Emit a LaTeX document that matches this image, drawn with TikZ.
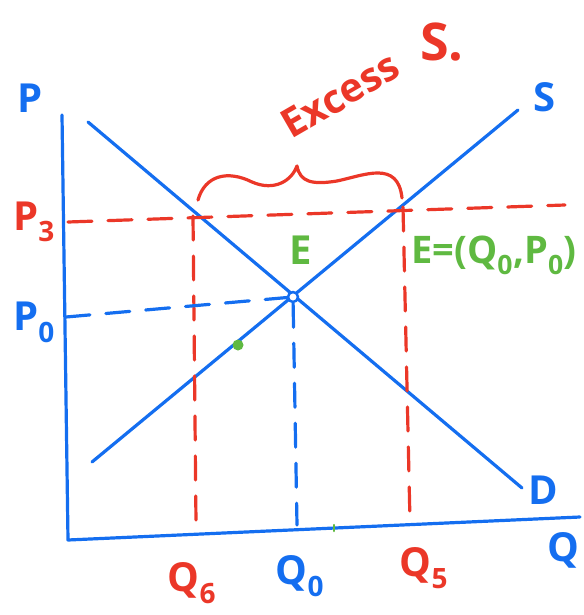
\documentclass[tikz,border=0pt]{standalone}
\usepackage{fontspec}
\setmainfont{Open Sans}
\usepackage{tikz}
\definecolor{penblue}{RGB}{20,110,240}
\definecolor{penred}{RGB}{235,55,40}
\definecolor{pengreen}{RGB}{95,185,65}

\begin{document}
\begin{tikzpicture}[x=1pt, y=-1pt, line cap=round, line join=round,
    every node/.style={font=\fontsize{40}{44}\selectfont\bfseries, inner sep=1pt},
    pen/.style={line width=3.2pt},
    guide/.style={line width=3.2pt, dash pattern=on 24pt off 16pt}]
    \useasboundingbox (0,0) rectangle (583,615);
    % axes and curves
    \coordinate (ptop) at (62,115);
    \coordinate (origin) at (68,540);
    \coordinate (qend) at (580,517);
    \coordinate (d1) at (88,122);
    \coordinate (d2) at (522,488);
    \coordinate (s1) at (92,462);
    \coordinate (s2) at (518,110);
    \draw[pen, penblue] (ptop) -- (origin) -- (qend);
    \draw[pen, penblue] (d1) -- (d2);
    \draw[pen, penblue] (s1) -- (s2);
    % guide lines
    \coordinate (p3a) at (68,222);
    \coordinate (p3b) at (565,205);
    \coordinate (p0a) at (66,317);
    \coordinate (q6a) at (193,216);
    \coordinate (q6b) at (196,523);
    \coordinate (q5a) at (403,207);
    \coordinate (q5b) at (410,522);
    \coordinate (q0b) at (297,525);
    \node[circle, draw=penblue, fill=white, line width=2.5pt, minimum size=10pt, inner sep=0pt] (E) at (293,297) {};
    \draw[guide, penred] (p3a) -- (p3b);
    \draw[guide, penred] (q6a) -- (q6b);
    \draw[guide, penred] (q5a) -- (q5b);
    \draw[guide, penblue] (p0a) -- (E);
    \draw[guide, penblue] (E) -- (q0b);
    % brace
    \draw[pen, penred] (198,200) .. controls (205,175) and (228,170) .. (252,182)
        .. controls (275,192) and (292,180) .. (297,166)
        .. controls (300,182) and (312,185) .. (337,181)
        .. controls (365,175) and (398,160) .. (402,198);
    \node[circle, fill=pengreen, minimum size=11pt, inner sep=0pt] (dot) at (238,345) {};
    \draw[line width=2.5pt, pengreen] (334,525) -- (334,531);
    % labels
    \node[penblue] (plab) at (30,98) {P};
    \node[penblue] (slab) at (545,97) {S};
    \node[penblue] (dlab) at (543,490) {D};
    \node[penblue] (qlab) at (563,550) {Q};
    \node[penred] (p3lab) at (34,222) {P\textsubscript{3}};
    \node[penblue] (p0lab) at (34,322) {P\textsubscript{0}};
    \node[pengreen] (elab) at (301,250) {E};
    \node[pengreen, font=\fontsize{38}{42}\selectfont\bfseries] (eqlab) at (494,255) {E=(Q\textsubscript{0},P\textsubscript{0})};
    \node[penred] (q6lab) at (192,583) {Q\textsubscript{6}};
    \node[penblue] (q0lab) at (300,576) {Q\textsubscript{0}};
    \node[penred] (q5lab) at (424,568) {Q\textsubscript{5}};
    \node[penred, rotate=30] (exlab) at (340,95) {Excess};
    \node[penred, font=\fontsize{52}{56}\selectfont\bfseries] (slab2) at (442,42) {S.};
\end{tikzpicture}
\end{document}
